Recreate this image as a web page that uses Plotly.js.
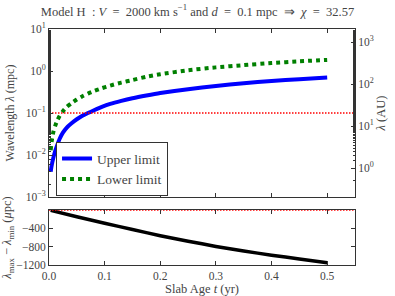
<!DOCTYPE html>
<html><head><meta charset="utf-8">
<script src="https://cdn.plot.ly/plotly-3.0.1.min.js"></script>
<style>html,body{margin:0;padding:0;background:#fff}#plot{width:395px;height:296px}</style>
</head><body><div id="plot"></div>
<script>
// Slab age (yr) and wavelength limits (mpc), top panel
const tTop = [0.003, 0.005, 0.008, 0.011, 0.014, 0.019, 0.025, 0.032, 0.04, 0.05, 0.06, 0.07, 0.08, 0.095, 0.11, 0.13, 0.15, 0.175, 0.2, 0.25, 0.3, 0.35, 0.4, 0.45, 0.5];
const upperLimit = [0.004, 0.0058, 0.0088, 0.0123, 0.016, 0.024, 0.034, 0.045, 0.056, 0.071, 0.086, 0.10, 0.115, 0.14, 0.165, 0.195, 0.225, 0.262, 0.30, 0.37, 0.44, 0.51, 0.58, 0.64, 0.70];
const lowerLimit = [0.013, 0.022, 0.036, 0.049, 0.062, 0.085, 0.11, 0.14, 0.17, 0.21, 0.25, 0.29, 0.33, 0.39, 0.45, 0.53, 0.61, 0.73, 0.84, 1.04, 1.22, 1.38, 1.55, 1.70, 1.84];
// Difference lambda_max - lambda_min (micro-pc), bottom panel
const tBottom = [0.003, 0.05, 0.1, 0.15, 0.2, 0.25, 0.3, 0.35, 0.4, 0.45, 0.5];
const diffVals = [-8, -148, -290, -425, -560, -680, -795, -895, -985, -1068, -1150];
// Reference lines
const tRef = [0, 0.55];
const refTop = [0.1, 0.1];
const refBottom = [0, 0];
// Tick labels
const leftTickVals = [0.001, 0.01, 0.1, 1, 10];
const leftTickText = ['10<sup>−3</sup>', '10<sup>−2</sup>', '10<sup>−1</sup>', '10<sup>0</sup>', '10<sup>1</sup>'];
const rightTickVals = [1, 10, 100, 1000];
const rightTickText = ['10<sup>0</sup>', '10<sup>1</sup>', '10<sup>2</sup>', '10<sup>3</sup>'];
const bottomTickVals = [-1200, -800, -400];
const bottomTickText = ['−1200', '−800', '−400'];
const xTickVals = [0, 0.1, 0.2, 0.3, 0.4, 0.5];
const xTickText = ['0.0', '0.1', '0.2', '0.3', '0.4', '0.5'];

const FONT = "'Liberation Serif', serif";
const TXT = '#444';
const LINE = '#333';
const SP = '\u2002';

const traces = [
  {x: tTop, y: upperLimit, mode: 'lines', name: 'Upper limit', xaxis: 'x', yaxis: 'y',
   line: {color: '#0000ff', width: 4, shape: 'spline', smoothing: 0.6}},
  {x: tTop, y: lowerLimit, mode: 'lines', name: 'Lower limit', xaxis: 'x', yaxis: 'y',
   line: {color: '#008000', width: 4, dash: '4px,4px', shape: 'spline', smoothing: 0.6}},
  {x: tRef, y: refTop, mode: 'lines', showlegend: false, xaxis: 'x', yaxis: 'y',
   line: {color: '#ff0000', width: 1.5, dash: '1.5px,1.5px'}},
  {x: [], y: [], mode: 'lines', showlegend: false, xaxis: 'x', yaxis: 'y3'},
  {x: tBottom, y: diffVals, mode: 'lines', showlegend: false, xaxis: 'x2', yaxis: 'y2',
   line: {color: '#000000', width: 3.5, shape: 'spline', smoothing: 0.6}},
  {x: tRef, y: refBottom, mode: 'lines', showlegend: false, xaxis: 'x2', yaxis: 'y2',
   line: {color: '#ff0000', width: 1.5, dash: '1.5px,1.5px'}}
];

const axBase = {showline: true, linecolor: LINE, linewidth: 1, showgrid: false, zeroline: false,
  ticks: 'inside', tickcolor: LINE, tickfont: {family: FONT, size: 11.5, color: TXT}};

const titleText = 'Model H' + SP + ': <i>V</i>' + SP + '=' + SP + '2000 km s<sup>−1</sup> and <i>d</i>' + SP + '=' + SP +
  '0.1 mpc' + SP + '⇒' + SP + '<i>χ</i>' + SP + '=' + SP + '32.57';

const layout = {
  width: 395, height: 296,
  margin: {l: 49, r: 40, t: 29, b: 31},
  paper_bgcolor: '#fff', plot_bgcolor: '#fff',
  font: {family: FONT, color: TXT},
  title: {text: titleText,
    x: 0.5, xref: 'container', y: 0.962, yref: 'container', yanchor: 'middle',
    font: {family: FONT, size: 12.5, color: TXT}},
  showlegend: true,
  legend: {x: 0.023, y: 0.52, xanchor: 'left', yanchor: 'top', bgcolor: '#fff',
    bordercolor: LINE, borderwidth: 1, font: {family: FONT, size: 13.5, color: TXT},
    tracegroupgap: 0},
  xaxis: Object.assign({}, axBase, {domain: [0, 1], range: [0, 0.55], anchor: 'y',
    tickvals: xTickVals, showticklabels: false, mirror: 'ticks', ticklen: 4}),
  yaxis: Object.assign({}, axBase, {domain: [0.288, 1], type: 'log', range: [-3, 1], anchor: 'x',
    tickvals: leftTickVals, ticktext: leftTickText, mirror: true, ticklen: 4,
    minor: {ticks: 'inside', ticklen: 2, tickcolor: LINE, showgrid: false},
    title: {text: 'Wavelength <i>λ</i> (mpc)', font: {family: FONT, size: 12, color: TXT}, standoff: 8}}),
  yaxis3: Object.assign({}, axBase, {type: 'log', range: [-0.686, 3.314], overlaying: 'y',
    side: 'right', anchor: 'x', tickvals: rightTickVals, ticktext: rightTickText, ticklen: 4,
    minor: {ticks: 'inside', ticklen: 2, tickcolor: LINE, showgrid: false},
    title: {text: '<i>λ</i> (AU)', font: {family: FONT, size: 12.5, color: TXT}, standoff: 2}}),
  xaxis2: Object.assign({}, axBase, {domain: [0, 1], range: [0, 0.55], anchor: 'y2',
    tickvals: xTickVals, ticktext: xTickText, mirror: 'ticks', ticklen: 4,
    title: {text: 'Slab Age <i>t</i> (yr)', font: {family: FONT, size: 12.5, color: TXT}, standoff: 1}}),
  yaxis2: Object.assign({}, axBase, {domain: [0, 0.233], range: [-1200, 0], anchor: 'x2',
    tickvals: bottomTickVals, ticktext: bottomTickText, mirror: 'ticks', ticklen: 4,
    title: {text: '<i>λ</i><sub>max</sub> − <i>λ</i><sub>min</sub> (<i>μ</i>pc)', font: {family: FONT, size: 12.5, color: TXT}, standoff: 4}})
};

Plotly.newPlot('plot', traces, layout, {staticPlot: true, displayModeBar: false});
</script></body></html>
